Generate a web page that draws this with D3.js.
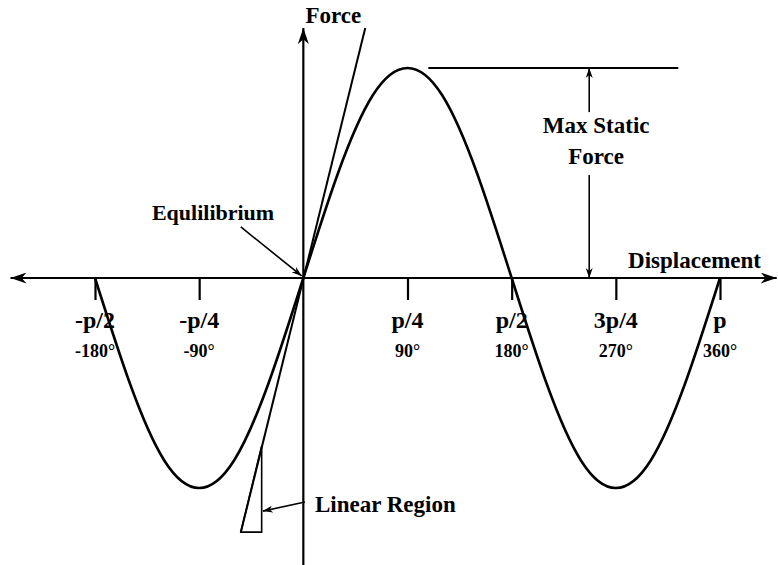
<!DOCTYPE html>
<html>
<head>
<meta charset="utf-8">
<script src="https://cdn.jsdelivr.net/npm/d3@7"></script>
<style>
  html, body { margin: 0; padding: 0; background: #fff; }
  svg { display: block; }
  text { font-family: 'Liberation Serif', 'Times New Roman', serif; font-weight: bold; fill: #000; }
</style>
</head>
<body>
<div id="chart"></div>
<script>
// displacement in degrees, force normalised to the max static force
const angles = [-180, -150, -120, -90, -60, -30, 0, 30, 60, 90, 120, 150, 180, 210, 240, 270, 300, 330, 360]
const forces = [0, -0.5, -0.87, -1, -0.87, -0.5, 0, 0.5, 0.87, 1, 0.87, 0.5, 0, -0.5, -0.87, -1, -0.87, -0.5, 0]

const tickAngles = [-180, -90, 90, 180, 270, 360]
const tickLabels = ['-p/2', '-p/4', 'p/4', 'p/2', '3p/4', 'p']
const degreeLabels = ['-180°', '-90°', '90°', '180°', '270°', '360°']

// annotation geometry, in the same data units
const tangentLine = [[-54, -1.21], [53.5, 1.19]]
const linearRegion = [[-36, -0.8], [-54, -1.21], [-36, -1.21]]
const maxForceLine = [[108, 1], [324, 1]]
const maxForceAt = 247
const xAxisExtent = [-253, 409]
const yAxisExtent = [-1.37, 1.19]

const width = 778
const height = 565

const x = d3.scaleLinear().domain([-180, 360]).range([95, 720])
const y = d3.scaleLinear().domain([-1, 1]).range([488, 68])

const svg = d3.select('#chart').append('svg')
  .attr('width', width)
  .attr('height', height)

const defs = svg.append('defs')
const marker = (id, len, half) => defs.append('marker')
  .attr('id', id)
  .attr('markerUnits', 'userSpaceOnUse')
  .attr('viewBox', `${-len} ${-half} ${len + 1} ${half * 2}`)
  .attr('refX', 0).attr('refY', 0)
  .attr('markerWidth', len + 1).attr('markerHeight', half * 2)
  .attr('orient', 'auto')
  .append('path')
  .attr('d', `M0,0L${-len},${-half}L${-len * 0.7},0L${-len},${half}Z`)
  .attr('fill', '#000')

marker('big', 16, 5.5)
marker('small', 10, 3.5)

const line = d3.line().x(d => x(d[0])).y(d => y(d[1]))

// axes
svg.append('line')
  .attr('x1', x(0)).attr('x2', x(xAxisExtent[0]))
  .attr('y1', y(0)).attr('y2', y(0))
  .attr('stroke', '#000').attr('stroke-width', 2.2)
  .attr('marker-end', 'url(#big)')
svg.append('line')
  .attr('x1', x(0)).attr('x2', x(xAxisExtent[1]))
  .attr('y1', y(0)).attr('y2', y(0))
  .attr('stroke', '#000').attr('stroke-width', 2.2)
  .attr('marker-end', 'url(#big)')
svg.append('line')
  .attr('x1', x(0)).attr('x2', x(0))
  .attr('y1', y(yAxisExtent[0])).attr('y2', y(yAxisExtent[1]))
  .attr('stroke', '#000').attr('stroke-width', 2.2)
  .attr('marker-end', 'url(#big)')

// tick marks
svg.append('g')
  .attr('transform', `translate(0,${y(0)})`)
  .call(d3.axisBottom(x).tickValues(tickAngles).tickSize(22).tickFormat(''))
  .call(g => g.select('.domain').remove())
  .call(g => g.selectAll('.tick line').attr('stroke-width', 2.2))

const labels = svg.append('g')
  .selectAll('g')
  .data(tickAngles)
  .join('g')
  .attr('transform', d => `translate(${x(d)},0)`)

labels.append('text')
  .attr('y', 328)
  .attr('text-anchor', 'middle')
  .style('font-size', '24px')
  .text((d, i) => tickLabels[i])

labels.append('text')
  .attr('y', 357)
  .attr('text-anchor', 'middle')
  .style('font-size', '18px')
  .text((d, i) => degreeLabels[i])

// tangent and linear region
svg.append('path')
  .attr('d', line(tangentLine))
  .attr('fill', 'none').attr('stroke', '#000').attr('stroke-width', 2)

svg.append('path')
  .attr('d', line(linearRegion) + 'Z')
  .attr('fill', 'none').attr('stroke', '#000').attr('stroke-width', 1.6)

// the force curve
svg.append('path')
  .datum(angles.map((a, i) => [a, forces[i]]))
  .attr('d', line.curve(d3.curveNatural))
  .attr('fill', 'none')
  .attr('stroke', '#000')
  .attr('stroke-width', 2.6)

line.curve(d3.curveLinear)

// max static force
svg.append('path')
  .attr('d', line(maxForceLine))
  .attr('fill', 'none').attr('stroke', '#000').attr('stroke-width', 1.8)

svg.append('path')
  .attr('d', line([[maxForceAt, 0.79], [maxForceAt, 1]]))
  .attr('stroke', '#000').attr('stroke-width', 1.6)
  .attr('marker-end', 'url(#small)')
svg.append('path')
  .attr('d', line([[maxForceAt, 0.49], [maxForceAt, 0]]))
  .attr('stroke', '#000').attr('stroke-width', 1.6)
  .attr('marker-end', 'url(#small)')

svg.append('text')
  .attr('x', x(253)).attr('y', 133)
  .attr('text-anchor', 'middle')
  .style('font-size', '23px')
  .text('Max Static')
svg.append('text')
  .attr('x', x(253)).attr('y', 164)
  .attr('text-anchor', 'middle')
  .style('font-size', '23px')
  .text('Force')

// equilibrium
svg.append('path')
  .attr('d', line([[-54, 0.243], [-1.4, 0.01]]))
  .attr('stroke', '#000').attr('stroke-width', 1.6)
  .attr('marker-end', 'url(#small)')
svg.append('text')
  .attr('x', x(-78)).attr('y', 220)
  .attr('text-anchor', 'middle')
  .style('font-size', '22px')
  .text('Equlilibrium')

// linear region label
svg.append('path')
  .attr('d', line([[1.4, -1.067], [-35, -1.11]]))
  .attr('stroke', '#000').attr('stroke-width', 1.6)
  .attr('marker-end', 'url(#small)')
svg.append('text')
  .attr('x', x(10)).attr('y', 512)
  .style('font-size', '23px')
  .text('Linear Region')

// axis titles
svg.append('text')
  .attr('x', x(26)).attr('y', 23)
  .attr('text-anchor', 'middle')
  .style('font-size', '23px')
  .text('Force')
svg.append('text')
  .attr('x', x(338)).attr('y', 268)
  .attr('text-anchor', 'middle')
  .style('font-size', '23px')
  .text('Displacement')
</script>
</body>
</html>
